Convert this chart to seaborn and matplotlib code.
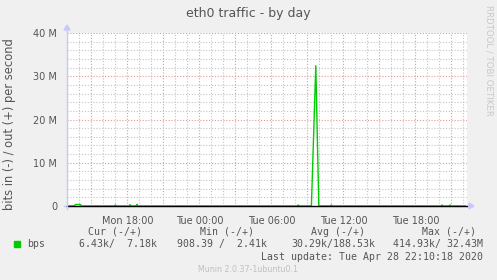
import matplotlib
matplotlib.use("Agg")
import matplotlib.pyplot as plt
import matplotlib.dates as mdates
from matplotlib.ticker import FuncFormatter, MultipleLocator
import pandas as pd
import seaborn as sns

# ---- data ----
time_points = [
    "2020-04-27 12:58", "2020-04-27 13:35", "2020-04-27 13:40", "2020-04-27 14:05", "2020-04-27 14:10",
    "2020-04-27 16:55", "2020-04-27 17:00", "2020-04-27 17:05",
    "2020-04-27 18:08", "2020-04-27 18:13", "2020-04-27 18:18",
    "2020-04-27 18:43", "2020-04-27 18:48", "2020-04-27 18:53",
    "2020-04-28 08:09", "2020-04-28 08:14", "2020-04-28 08:19",
    "2020-04-28 09:20", "2020-04-28 09:42", "2020-04-28 09:57",
    "2020-04-28 10:55", "2020-04-28 11:00", "2020-04-28 11:05",
    "2020-04-28 20:08", "2020-04-28 20:13", "2020-04-28 20:18",
    "2020-04-28 20:48", "2020-04-28 20:53", "2020-04-28 20:58",
    "2020-04-28 22:10",
]
out_bps = [
    7.0e3, 7.0e3, 3.5e5, 3.5e5, 7.0e3,
    7.0e3, 2.5e5, 7.0e3,
    7.0e3, 3.0e5, 7.0e3,
    7.0e3, 4.0e5, 7.0e3,
    7.0e3, 2.5e5, 7.0e3,
    7.0e3, 32.43e6, 7.0e3,
    7.0e3, 2.5e5, 7.0e3,
    7.0e3, 2.5e5, 7.0e3,
    7.0e3, 2.5e5, 7.0e3,
    7.18e3,
]
y_ticks_vals = [0, 10e6, 20e6, 30e6, 40e6]
y_tick_labels = ["0", "10 M", "20 M", "30 M", "40 M"]
x_start = "2020-04-27 12:58"
x_end = "2020-04-28 22:18"

legend_headers = ["Cur (-/+)", "Min (-/+)", "Avg (-/+)", "Max (-/+)"]
legend_values = ["6.43k/  7.18k", "908.39 /  2.41k", "30.29k/188.53k", "414.93k/ 32.43M"]
series_name = "bps"
title = "eth0 traffic - by day"
ylabel = "bits in (-) / out (+) per second"
last_update = "Last update: Tue Apr 28 22:10:18 2020"
footer = "Munin 2.0.37-1ubuntu0.1"
side_text = "RRDTOOL / TOBI OETIKER"

df = pd.DataFrame({"time": pd.to_datetime(time_points), "bps": out_bps})

# ---- figure ----
W, H = 497, 280
fig = plt.figure(figsize=(W / 100, H / 100), dpi=100, facecolor="#F0F0F0")
L, R, T, B = 67, 467, 33, 206
ax = fig.add_axes([L / W, 1 - B / H, (R - L) / W, (B - T) / H])
ax.set_facecolor("white")

TXT = "#555555"
GREEN = "#00CC00"

sns.lineplot(data=df, x="time", y="bps", ax=ax, color=GREEN, linewidth=1.0, zorder=3)

ax.set_xlim(pd.Timestamp(x_start), pd.Timestamp(x_end))
ax.set_ylim(0, 40e6)

# grids
ax.xaxis.set_major_locator(mdates.HourLocator(byhour=range(0, 24, 3)))
ax.xaxis.set_minor_locator(mdates.HourLocator(interval=1))

def xfmt(x, pos):
    d = mdates.num2date(x)
    if d.hour % 6 == 0:
        return d.strftime("%a %H:%M")
    return ""

ax.xaxis.set_major_formatter(FuncFormatter(xfmt))
ax.set_yticks(y_ticks_vals)
ax.set_yticklabels(y_tick_labels)
ax.yaxis.set_minor_locator(MultipleLocator(2e6))

ax.grid(which="minor", color="#c4c4c4", linestyle=(0, (1, 1.6)), linewidth=0.8, zorder=0)
ax.grid(which="major", color="#e09a9a", linestyle=(0, (1, 1.6)), linewidth=0.8, zorder=1)
ax.set_axisbelow(True)

ax.tick_params(axis="both", which="both", length=0, colors=TXT, labelsize=7)
ax.tick_params(axis="x", which="major", pad=7)
ax.tick_params(axis="y", which="major", pad=7)
ax.set_xlabel("")
ax.set_ylabel("")

for s in ax.spines.values():
    s.set_visible(False)

# zero line
ax.axhline(0, color="black", linewidth=1.0, zorder=4, clip_on=False)

# axis lines with arrows (in figure pixel coords)
AX_COL = "#c8c8ff"
fig.add_artist(plt.Line2D([L / W, L / W], [1 - (B + 3) / H, 1 - 28 / H], color=AX_COL, lw=1))
fig.add_artist(plt.Line2D([(L - 3) / W, 471 / W], [1 - B / H, 1 - B / H], color=AX_COL, lw=1, zorder=0))
fig.patches.append(plt.Polygon([[(L - 3) / W, 1 - 30 / H], [(L + 3) / W, 1 - 30 / H], [L / W, 1 - 25 / H]],
                               closed=True, transform=fig.transFigure, color=AX_COL, figure=fig))
fig.patches.append(plt.Polygon([[469 / W, 1 - (B - 3) / H], [469 / W, 1 - (B + 3) / H], [474 / W, 1 - B / H]],
                               closed=True, transform=fig.transFigure, color=AX_COL, figure=fig))

# texts
fig.text(248 / W, 1 - 13 / H, title, ha="center", va="center", color=TXT, fontsize=9)
fig.text(10 / W, 1 - 124 / H, ylabel, ha="center", va="center", rotation=90, color=TXT, fontsize=8.3)
fig.text(489 / W, 1 - 5 / H, side_text, ha="center", va="top", rotation=270, color="#c8c8c8", fontsize=6.2)

MONO = "DejaVu Sans Mono"
FS = 7.1
header_right = [142, 254, 365, 476]
value_right = [157, 267, 375, 483]
for h, x in zip(legend_headers, header_right):
    fig.text(x / W, 1 - 232 / H, h, ha="right", va="center", family=MONO, fontsize=FS, color=TXT)
for v, x in zip(legend_values, value_right):
    fig.text(x / W, 1 - 244 / H, v, ha="right", va="center", family=MONO, fontsize=FS, color=TXT)
fig.patches.append(plt.Rectangle((14 / W, 1 - 247 / H), 6 / W, 6 / H, transform=fig.transFigure,
                                 color=GREEN, figure=fig))
fig.text(27 / W, 1 - 244 / H, series_name, ha="left", va="center", family=MONO, fontsize=FS, color=TXT)
fig.text(483 / W, 1 - 257 / H, last_update, ha="right", va="center", family=MONO, fontsize=FS, color=TXT)
fig.text(248 / W, 1 - 269 / H, footer, ha="center", va="center", color="#c0c0c0", fontsize=5.7)

fig.savefig("out.png", dpi=100, facecolor=fig.get_facecolor())
